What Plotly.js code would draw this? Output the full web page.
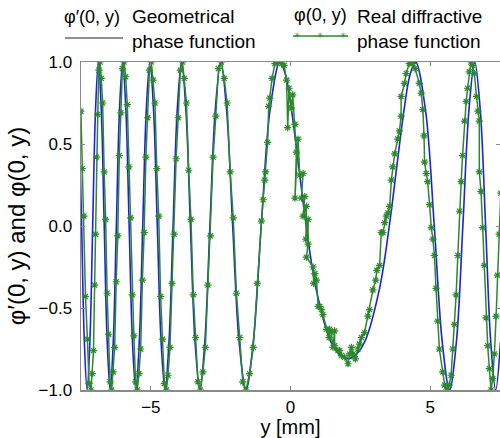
<!DOCTYPE html>
<html>
<head>
<meta charset="utf-8">
<script src="https://cdn.plot.ly/plotly-3.0.1.min.js"></script>
<style>html,body{margin:0;padding:0;background:#fff;}#chart{width:500px;height:438px;}</style>
</head>
<body>
<div id="chart"></div>
<script>
// Geometrical phase function φ'(0, y) (blue curve)
const geomY = [-7.574,-7.477,-7.380,-7.282,-7.182,-7.082,-6.980,-6.878,-6.774,-6.668,-6.562,-6.454,-6.345,-6.234,-6.122,-6.009,-5.893,-5.776,-5.657,-5.537,-5.414,-5.290,-5.163,-5.034,-4.902,-4.768,-4.632,-4.492,-4.350,-4.204,-4.055,-3.901,-3.744,-3.583,-3.417,-3.245,-3.068,-2.885,-2.694,-2.495,-2.288,-2.070,-1.839,-1.594,-1.332,-1.047,-0.733,-0.379,-0.181,0.036,0.280,0.563,0.915,1.446,1.790,2.050,2.310,2.654,3.185,3.537,3.820,4.064,4.281,4.479,4.833,5.147,5.432,5.694,5.939,6.170,6.388,6.595,6.794,6.985,7.168,7.345,7.517];
const geomPhi = [0.707,0,-0.707,-1,-0.707,0,0.707,1,0.707,0,-0.707,-1,-0.707,0,0.707,1,0.707,0,-0.707,-1,-0.707,0,0.707,1,0.707,0,-0.707,-1,-0.707,0,0.707,1,0.707,0,-0.707,-1,-0.707,0,0.707,1,0.707,0,-0.707,-1,-0.707,0,0.707,1,0.924,0.707,0.383,0,-0.383,-0.707,-0.790,-0.809,-0.790,-0.707,-0.383,0,0.383,0.707,0.924,1,0.707,0,-0.707,-1,-0.707,0,0.707,1,0.707,0,-0.707,-1,-0.707];

// Real diffractive phase function φ(0, y) (green, markers)
const realY = [
 -7.504,-7.456,-7.397,-7.339,-7.270,-7.211,-7.142,-7.097,-7.052,-7.012,-6.982,-6.941,-6.900,-6.859,-6.818,-6.776,-6.724,-6.671,-6.618,-6.565,-6.512,-6.458,-6.404,-6.350,-6.295,-6.240,-6.184,-6.128,-6.072,-6.016,-5.959,-5.901,-5.843,-5.785,-5.726,-5.667,-5.607,-5.547,-5.487,-5.426,-5.364,-5.302,-5.240,-5.177,-5.113,-5.049,-4.984,-4.918,-4.852,-4.786,-4.718,-4.650,-4.582,-4.512,-4.442,-4.386,-4.315,-4.242,-4.169,-4.095,-4.020,-3.943,-3.866,-3.803,-3.724,-3.644,-3.563,-3.480,-3.397,-3.312,-3.225,-3.137,-3.048,-2.957,-2.865,-2.770,-2.674,-2.576,-2.475,-2.373,-2.268,-2.160,-2.050,-1.936,-1.819,-1.709,-1.594,-1.465,-1.332,-1.192,
 -1.04,-0.98,-0.92,-0.89,-0.82,-0.78,-0.74,-0.66,-0.56,-0.44,-0.32,-0.23,-0.14,-0.10,-0.05,0.03,0.08,0.16,0.21,0.16,0.27,0.33,0.45,0.39,0.51,0.45,0.57,0.55,0.63,0.63,0.57,0.81,0.83,0.87,0.93,0.99,1.05,1.11,1.16,1.29,1.38,1.40,1.46,1.52,1.58,1.58,1.70,1.76,1.82,1.94,2.06,2.12,2.18,2.24,2.32,2.41,2.47,2.54,2.65,2.77,2.83,2.95,3.05,3.09,3.19,3.25,3.31,3.37,3.43,3.49,3.55,3.61,3.66,3.73,3.84,3.90,3.96,3.96,4.08,4.14,4.25,4.37,4.46,4.61,4.68,4.74,4.78,4.80,4.86,4.91,4.98,5.04,5.10,
 5.15,5.21,5.27,5.33,5.45,5.52,5.59,5.68,5.75,5.81,5.87,5.93,5.99,6.05,6.11,6.16,6.23,6.29,6.34,6.40,6.46,6.52,6.58,6.66,6.71,6.76,6.76,6.82,6.88,6.94,7.00,7.06,7.12,7.18,7.24,7.30,7.36,7.41,7.47,7.53];
const realPhi = [
 0.70,0.35,0.06,-0.43,-0.69,-0.96,-1,-0.90,-0.76,-0.36,-0.05,0.42,0.68,0.95,1,0.90,0.75,0.33,0.04,-0.41,-0.66,-0.95,-1,-0.89,-0.74,-0.34,-0.06,0.43,0.69,0.96,1,0.91,0.74,0.36,0.05,-0.42,-0.67,-0.95,-1,-0.90,-0.75,-0.33,-0.04,0.42,0.66,0.95,1,0.89,0.75,0.35,0.06,-0.43,-0.69,-0.96,-1,-0.91,-0.74,-0.35,-0.05,0.41,0.66,0.95,1,0.90,0.75,0.34,0.04,-0.42,-0.68,-0.95,-1,-0.89,-0.74,-0.36,-0.06,0.42,0.67,0.96,1,0.90,0.75,0.33,0.05,-0.41,-0.68,-0.95,-1,-0.90,-0.74,-0.35,
 0.03,0.16,0.28,0.33,0.51,0.73,0.78,0.90,0.99,1.0,0.99,0.98,0.89,0.60,0.84,0.72,0.80,0.62,0.45,0.17,0.53,0.31,0.32,0.17,0.18,0.06,0.12,-0.08,0.04,-0.11,-0.19,-0.25,-0.35,-0.29,-0.33,-0.49,-0.49,-0.51,-0.54,-0.63,-0.68,-0.63,-0.65,-0.74,-0.64,-0.73,-0.76,-0.76,-0.79,-0.80,-0.84,-0.78,-0.74,-0.78,-0.81,-0.75,-0.72,-0.68,-0.65,-0.55,-0.51,-0.39,-0.33,-0.27,-0.24,-0.04,-0.04,0.02,0.06,0.08,0.12,0.28,0.36,0.44,0.53,0.58,0.67,0.79,0.87,0.93,0.99,0.99,0.96,0.87,0.81,0.71,0.55,0.39,0.32,0.27,0.13,-0.01,-0.08,
 -0.18,-0.38,-0.58,-0.75,-0.89,-0.97,-1,-0.97,-0.91,-0.75,-0.60,-0.42,-0.18,0.09,0.27,0.43,0.64,0.76,0.84,0.94,1,0.98,0.93,0.79,0.70,0.64,0.33,0.21,-0.01,-0.24,-0.56,-0.73,-0.87,-1,-0.93,-0.78,-0.55,-0.30,-0.05,0.20];

const xTickVals = [-5, 0, 5];
const xTickText = ['\u22125', '0', '5'];
const yTickVals = [-1, -0.5, 0, 0.5, 1];
const yTickText = ['\u22121.0', '\u22120.5', '0.0', '0.5', '1.0'];

const FONT = 'Liberation Sans, Arial, sans-serif';
const AX = '#8a8a8a';
const BLUE = '#2020e0';
const GREEN = '#2a8a2a';

const traces = [
  {x: geomY, y: geomPhi, type: 'scatter', mode: 'lines',
   line: {color: BLUE, width: 1.6, shape: 'spline', smoothing: 1}, showlegend: false},
  {x: realY, y: realPhi, type: 'scatter', mode: 'lines+markers',
   line: {color: GREEN, width: 1.5},
   marker: {symbol: 'asterisk-open', size: 6, color: GREEN, line: {color: GREEN, width: 1.2}},
   showlegend: false}
];

const W = 419, H = 328, L = 81, B = 48;
const px = v => (v - L) / W;
const py = v => (438 - B - v) / H;

const layout = {
  width: 500, height: 438,
  margin: {l: L, r: 0, t: 62, b: B},
  paper_bgcolor: '#fff', plot_bgcolor: '#fff',
  font: {family: FONT, size: 17, color: '#000'},
  showlegend: false,
  xaxis: {
    range: [-7.5, 7.5], tickvals: xTickVals, ticktext: xTickText,
    ticks: 'inside', ticklen: 4, tickcolor: AX, tickwidth: 1,
    showline: true, linecolor: AX, linewidth: 1.5, mirror: 'ticks',
    showgrid: false, zeroline: false, ticklabelstandoff: 1,
    tickfont: {family: FONT, size: 17},
    title: {text: 'y [mm]', font: {family: FONT, size: 20}, standoff: 5}
  },
  yaxis: {
    range: [-1, 1], tickvals: yTickVals, ticktext: yTickText,
    ticks: 'inside', ticklen: 4, tickcolor: AX, tickwidth: 1,
    showline: true, linecolor: AX, linewidth: 1.5, mirror: 'ticks',
    showgrid: false, zeroline: false, ticklabelstandoff: 4,
    tickfont: {family: FONT, size: 17},
    title: {text: '\u03C6\u2032(0, y) and \u03C6(0, y)', font: {family: FONT, size: 24}, standoff: 6}
  },
  shapes: [
    {type: 'line', xref: 'paper', yref: 'paper', x0: px(65), x1: px(123), y0: py(38), y1: py(38),
     line: {color: '#6a6a7a', width: 1.5}},
    {type: 'line', xref: 'paper', yref: 'paper', x0: px(293), x1: px(348), y0: py(36), y1: py(36),
     line: {color: GREEN, width: 1.5}}
  ],
  annotations: [
    {xref: 'paper', yref: 'paper', x: px(92), y: py(17), text: '\u03C6\u2032(0, y)', showarrow: false,
     xanchor: 'center', yanchor: 'middle', font: {family: FONT, size: 18}},
    {xref: 'paper', yref: 'paper', x: px(130), y: py(28.5), text: 'Geometrical<br>phase function', showarrow: false,
     xanchor: 'left', yanchor: 'middle', align: 'left', font: {family: FONT, size: 19}},
    {xref: 'paper', yref: 'paper', x: px(320), y: py(15), text: '\u03C6(0, y)', showarrow: false,
     xanchor: 'center', yanchor: 'middle', font: {family: FONT, size: 18}},
    {xref: 'paper', yref: 'paper', x: px(355), y: py(28.5), text: 'Real diffractive<br>phase function', showarrow: false,
     xanchor: 'left', yanchor: 'middle', align: 'left', font: {family: FONT, size: 19}},
    {xref: 'paper', yref: 'paper', x: px(297), y: py(36), text: '\u2733', showarrow: false,
     xanchor: 'center', yanchor: 'middle', font: {family: 'DejaVu Sans', size: 8, color: GREEN}},
    {xref: 'paper', yref: 'paper', x: px(320), y: py(36), text: '\u2733', showarrow: false,
     xanchor: 'center', yanchor: 'middle', font: {family: 'DejaVu Sans', size: 8, color: GREEN}},
    {xref: 'paper', yref: 'paper', x: px(343), y: py(36), text: '\u2733', showarrow: false,
     xanchor: 'center', yanchor: 'middle', font: {family: 'DejaVu Sans', size: 8, color: GREEN}}
  ]
};

Plotly.newPlot('chart', traces, layout, {staticPlot: true, displayModeBar: false});
</script>
</body>
</html>
